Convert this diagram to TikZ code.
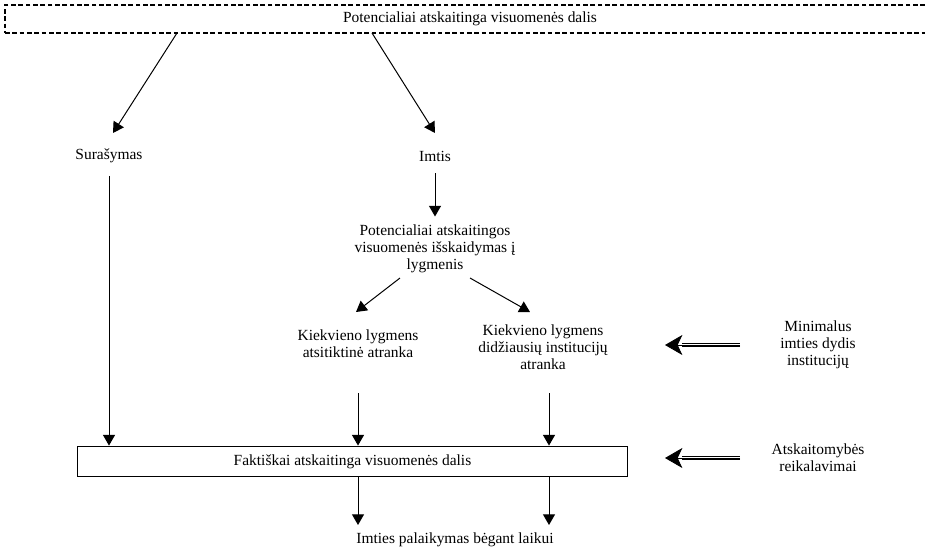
\documentclass[tikz,border=0pt]{standalone}
\usepackage{fontspec}
\setmainfont{Liberation Serif}
\usetikzlibrary{arrows.meta}

\tikzset{
  txt/.style={align=center, inner sep=0pt, font=\fontsize{11.6}{12.9}\selectfont},
  arr/.style={-{Triangle[length=8pt,width=9pt]}, line width=0.75pt},
  dbl/.style={double, double distance=1.8pt, line width=0.6pt},
  bigtip/.style={-{Stealth[length=13pt,width=15pt,inset=3.5pt]}, line width=0.6pt}
}

\begin{document}
\begin{tikzpicture}[x=0.75pt,y=-0.75pt]
  \useasboundingbox (0,0) rectangle (925,551);

  \node[txt, draw, dashed, dash pattern=on 3.5pt off 2pt, line width=0.9pt,
        minimum width=697.5pt, minimum height=21pt] (pot) at (470,19)
        {Potencialiai atskaitinga visuomenės dalis};
  \node[txt] (sur) at (109,156) {Surašymas};
  \node[txt] (imt) at (435,156) {Imtis};
  \node[txt] (lyg) at (435,249) {Potencialiai atskaitingos\\visuomenės išskaidymas į\\lygmenis};
  \node[txt] (ats) at (358,344) {Kiekvieno lygmens\\atsitiktinė atranka};
  \node[txt] (did) at (543,347) {Kiekvieno lygmens\\didžiausių institucijų\\atranka};
  \node[txt] (min) at (818,345) {Minimalus\\imties dydis\\institucijų};
  \node[txt, draw, line width=0.9pt, minimum width=413pt, minimum height=23pt]
        (fakt) at (352.5,461.5) {Faktiškai atskaitinga visuomenės dalis};
  \node[txt] (reik) at (818,458) {Atskaitomybės\\reikalavimai};
  \node[txt] (pal) at (455,540) {Imties palaikymas bėgant laikui};

  \coordinate (p1) at (177,33);
  \coordinate (p2) at (372,33);
  \coordinate (s1) at (113,133);
  \coordinate (i1) at (435,133);
  \coordinate (l1) at (400,278);
  \coordinate (l2) at (470,278);
  \coordinate (a1) at (356,312);
  \coordinate (d1) at (530,312);
  \coordinate (a2) at (358,393);
  \coordinate (d2) at (549,393);
  \coordinate (b1) at (358,525);
  \coordinate (b2) at (549,525);
  \coordinate (m1) at (740,345);
  \coordinate (m2) at (682,345);
  \coordinate (m3) at (665,345);
  \coordinate (r1) at (740,458);
  \coordinate (r2) at (682,458);
  \coordinate (r3) at (665,458);

  \draw[arr] (p1) -- (s1);
  \draw[arr] (p2) -- (i1);
  \draw[arr, shorten <=9.5pt] (sur) -- (sur |- fakt.north);
  \draw[arr, shorten <=9pt, shorten >=6pt] (imt) -- (lyg);
  \draw[arr] (l1) -- (a1);
  \draw[arr] (l2) -- (d1);
  \draw[arr] (a2) -- (a2 |- fakt.north);
  \draw[arr] (d2) -- (d2 |- fakt.north);
  \draw[arr] (b1 |- fakt.south) -- (b1);
  \draw[arr] (b2 |- fakt.south) -- (b2);

  \draw[dbl] (m1) -- (m2);
  \draw[line width=0.6pt] (m1) -- (m2);
  \draw[bigtip] (m2) -- (m3);
  \draw[dbl] (r1) -- (r2);
  \draw[line width=0.6pt] (r1) -- (r2);
  \draw[bigtip] (r2) -- (r3);
\end{tikzpicture}
\end{document}
